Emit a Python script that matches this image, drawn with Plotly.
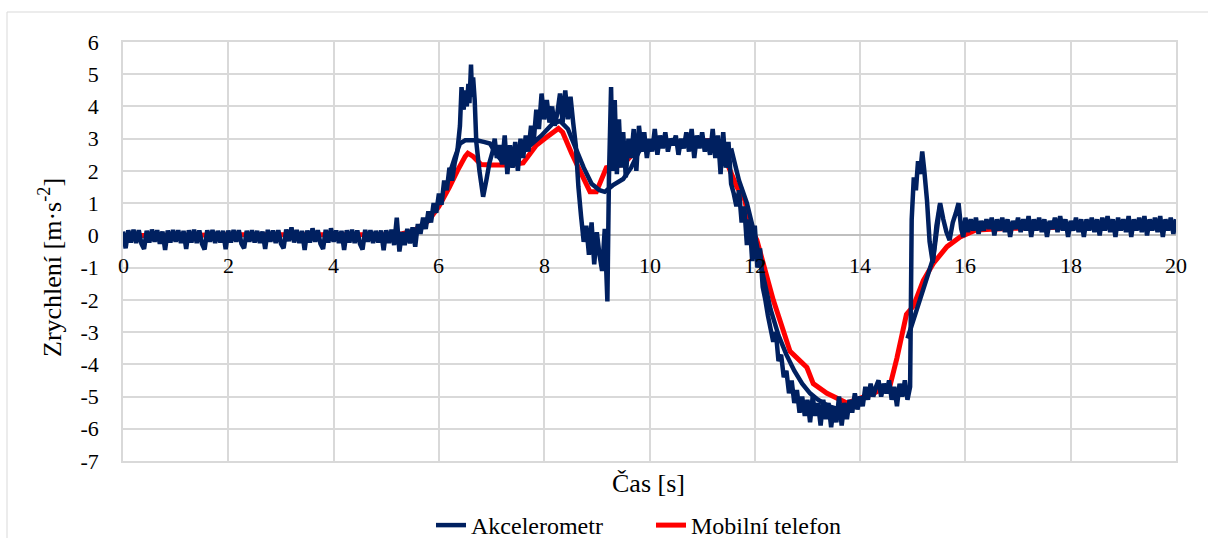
import plotly.graph_objects as go

# ---------------- data ----------------
x_tick_values = [0, 2, 4, 6, 8, 10, 12, 14, 16, 18, 20]
x_tick_labels = ["0", "2", "4", "6", "8", "10", "12", "14", "16", "18", "20"]
y_tick_values = [-7, -6, -5, -4, -3, -2, -1, 0, 1, 2, 3, 4, 5, 6]
y_tick_labels = ["-7", "-6", "-5", "-4", "-3", "-2", "-1", "0", "1", "2", "3", "4", "5", "6"]

# Akcelerometr (main noisy record)
acc_time = [
    0.00, 0.05, 0.10, 0.15, 0.20, 0.25, 0.30, 0.35, 0.40, 0.45,
    0.50, 0.55, 0.60, 0.65, 0.70, 0.75, 0.80, 0.85, 0.90, 0.95,
    1.00, 1.05, 1.10, 1.15, 1.20, 1.25, 1.30, 1.35, 1.40, 1.45,
    1.50, 1.55, 1.60, 1.65, 1.70, 1.75, 1.80, 1.85, 1.90, 1.95,
    2.00, 2.05, 2.10, 2.15, 2.20, 2.25, 2.30, 2.35, 2.40, 2.45,
    2.50, 2.55, 2.60, 2.65, 2.70, 2.75, 2.80, 2.85, 2.90, 2.95,
    3.00, 3.05, 3.10, 3.15, 3.20, 3.25, 3.30, 3.35, 3.40, 3.45,
    3.50, 3.55, 3.60, 3.65, 3.70, 3.75, 3.80, 3.85, 3.90, 3.95,
    4.00, 4.05, 4.10, 4.15, 4.20, 4.25, 4.30, 4.35, 4.40, 4.45,
    4.50, 4.55, 4.60, 4.65, 4.70, 4.75, 4.80, 4.85, 4.90, 4.95,
    5.00, 5.05, 5.10, 5.15, 5.20, 5.25, 5.30, 5.35, 5.40, 5.45,
    5.50, 5.55, 5.60, 5.65, 5.70, 5.75, 5.80, 5.85, 5.90, 5.95,
    6.00, 6.05, 6.10, 6.15, 6.20, 6.25, 6.30, 6.35,
    6.40, 6.43, 6.47, 6.50, 6.53, 6.56, 6.58, 6.61, 6.63, 6.65,
    6.68, 6.71, 6.77, 6.84, 6.90, 6.96, 7.02, 7.06, 7.10, 7.15,
    7.20, 7.25, 7.30, 7.35, 7.40, 7.45, 7.50, 7.55, 7.60, 7.65,
    7.70, 7.75, 7.80, 7.85, 7.90, 7.95, 8.00, 8.05, 8.10, 8.15,
    8.20, 8.25, 8.30, 8.35, 8.40, 8.45, 8.50, 8.55, 8.60, 8.65,
    8.70, 8.75, 8.80, 8.85, 8.90, 8.95, 9.00, 9.05, 9.10, 9.15,
    9.20, 9.23, 9.27, 9.30, 9.34, 9.38, 9.42, 9.46, 9.50, 9.55,
    9.60, 9.65, 9.70, 9.75, 9.80, 9.85, 9.90, 9.95, 10.00, 10.05,
    10.10, 10.15, 10.20, 10.25, 10.30, 10.35, 10.40, 10.45, 10.50, 10.55,
    10.60, 10.65, 10.70, 10.75, 10.80, 10.85, 10.90, 10.95, 11.00, 11.05,
    11.10, 11.15, 11.20, 11.25, 11.30, 11.35, 11.40, 11.45, 11.50, 11.55,
    11.60, 11.65, 11.70, 11.75, 11.80, 11.85, 11.90, 11.95, 12.00, 12.05,
    12.10, 12.15, 12.20, 12.25, 12.30, 12.35, 12.40, 12.45, 12.50, 12.55,
    12.60, 12.65, 12.70, 12.75, 12.80, 12.85, 12.90, 12.95, 13.00, 13.05,
    13.10, 13.15, 13.20, 13.25, 13.30, 13.35, 13.40, 13.45, 13.50, 13.55,
    13.60, 13.65, 13.70, 13.75, 13.80, 13.85, 13.90, 13.95, 14.00, 14.05,
    14.10, 14.15, 14.20, 14.25, 14.30, 14.35, 14.40, 14.45, 14.50, 14.55,
    14.60, 14.65, 14.70, 14.75, 14.80, 14.85, 14.90, 14.95, 14.98, 15.02,
    15.06, 15.10, 15.14, 15.18, 15.22, 15.27, 15.32, 15.38, 15.45, 15.52,
    15.58, 15.64, 15.70, 15.76, 15.82, 15.87, 15.92, 15.96, 16.00,
    16.05, 16.10, 16.15, 16.20, 16.25, 16.30, 16.35, 16.40, 16.45, 16.50,
    16.55, 16.60, 16.65, 16.70, 16.75, 16.80, 16.85, 16.90, 16.95, 17.00,
    17.05, 17.10, 17.15, 17.20, 17.25, 17.30, 17.35, 17.40, 17.45, 17.50,
    17.55, 17.60, 17.65, 17.70, 17.75, 17.80, 17.85, 17.90, 17.95, 18.00,
    18.05, 18.10, 18.15, 18.20, 18.25, 18.30, 18.35, 18.40, 18.45, 18.50,
    18.55, 18.60, 18.65, 18.70, 18.75, 18.80, 18.85, 18.90, 18.95, 19.00,
    19.05, 19.10, 19.15, 19.20, 19.25, 19.30, 19.35, 19.40, 19.45, 19.50,
    19.55, 19.60, 19.65, 19.70, 19.75, 19.80, 19.85, 19.90, 19.95, 20.00,
]
acc_value = [
    0.12, -0.40, 0.16, -0.22, 0.18, -0.24, 0.16, -0.26, -0.42, 0.14,
    -0.22, 0.18, -0.20, 0.16, -0.26, 0.12, -0.45, 0.15, -0.22, 0.17,
    -0.20, 0.16, -0.24, 0.14, -0.42, 0.16, -0.22, 0.18, -0.24, 0.15,
    -0.26, -0.44, 0.16, -0.20, 0.17, -0.24, 0.14, -0.22, 0.14, -0.43,
    0.15, -0.22, 0.17, -0.20, 0.16, -0.26, -0.40, 0.14, -0.20, 0.16,
    -0.22, 0.14, -0.24, 0.12, -0.42, 0.17, -0.20, 0.15, -0.24, 0.16,
    -0.26, -0.40, 0.18, -0.18, 0.25, -0.22, 0.17, -0.24, 0.14, -0.45,
    0.15, -0.22, 0.22, -0.20, 0.16, -0.26, -0.42, 0.17, -0.22, 0.22,
    -0.20, 0.15, -0.24, 0.14, -0.45, 0.16, -0.22, 0.18, -0.24, 0.15,
    -0.26, -0.44, 0.17, -0.20, 0.16, -0.24, 0.14, -0.22, 0.15, -0.46,
    0.16, -0.24, 0.18, -0.30, 0.55, -0.50, 0.10, -0.30, 0.20, -0.25,
    0.25, -0.35, 0.35, 0.05, 0.55, 0.20, 0.75, 0.40, 1.00, 0.70,
    1.30, 0.95, 1.70, 1.40, 2.10, 1.70, 2.25, 2.60,
    3.40, 4.60, 3.90, 4.50, 4.00, 4.70, 4.10, 5.30, 4.30, 4.90,
    4.20, 2.90, 2.00, 1.20, 1.70, 2.25, 2.60, 3.00, 2.40, 2.80,
    2.20, 3.10, 1.90, 2.80, 2.10, 2.90, 2.00, 3.00, 2.40, 3.10,
    2.60, 3.40, 2.90, 3.90, 3.30, 4.40, 3.60, 4.20, 3.50, 4.00,
    3.40, 3.80, 4.40, 3.50, 4.50, 3.60, 4.30, 3.50, 2.80, 1.50,
    0.60, -0.20, 0.30, -0.60, 0.40, -0.90, 0.10, -0.60, -1.10, 0.20,
    -2.05, 1.80, 4.60, 2.00, 4.20, 1.90, 3.60, 2.10, 3.20, 1.80,
    3.00, 2.40, 3.30, 2.00, 3.40, 2.60, 3.20, 2.40, 3.00, 2.60,
    3.30, 2.50, 3.10, 2.70, 3.20, 2.60, 3.00, 2.80, 3.10, 2.50,
    3.00, 2.70, 3.20, 2.60, 3.30, 2.40, 3.10, 2.70, 3.20, 2.60,
    3.00, 2.50, 3.30, 2.40, 3.10, 1.90, 3.20, 2.10, 2.90, 1.60,
    1.30, 0.90, 1.40, 0.40, 0.90, -0.30, 0.50, -0.80, 0.30, -1.00,
    -0.40, -1.60, -2.00, -2.50, -2.90, -3.30, -3.00, -3.90, -3.70, -4.40,
    -4.20, -4.90, -4.50, -5.20, -4.80, -5.50, -5.00, -5.60, -5.10, -5.80,
    -5.00, -5.60, -5.20, -5.90, -5.10, -5.70, -5.20, -5.95, -5.30, -5.80,
    -5.00, -5.90, -5.20, -5.70, -5.10, -5.50, -4.90, -5.40, -5.00, -5.30,
    -4.70, -5.10, -4.60, -5.00, -4.70, -4.50, -5.00, -4.60, -4.90, -4.50,
    -5.10, -4.70, -5.30, -4.60, -5.00, -4.50, -5.10, -4.70, 0.50, 1.80,
    1.40, 2.30, 1.90, 2.60, 2.00, 1.10, -0.20, -0.85, 0.30, 1.00,
    0.50, 0.10, -0.15, 0.40, 0.70, 1.00, 0.20, -0.05, 0.55,
    0.10, 0.50, 0.15, 0.55, 0.05, 0.45, 0.15, 0.50, 0.20, 0.55,
    0.00, 0.50, 0.15, 0.55, 0.10, 0.50, -0.05, 0.45, 0.20, 0.55,
    0.10, 0.50, 0.15, 0.60, -0.05, 0.50, 0.15, 0.55, 0.10, 0.50,
    -0.05, 0.45, 0.20, 0.55, 0.10, 0.60, 0.15, 0.50, -0.05, 0.45,
    0.15, 0.55, 0.10, 0.50, -0.05, 0.50, 0.15, 0.55, 0.10, 0.50,
    0.00, 0.55, 0.15, 0.60, 0.10, 0.50, -0.05, 0.55, 0.15, 0.50,
    0.10, 0.60, -0.05, 0.50, 0.15, 0.55, 0.10, 0.60, 0.00, 0.50,
    0.15, 0.55, 0.10, 0.60, -0.05, 0.50, 0.15, 0.55, 0.05, 0.50,
]

# Akcelerometr (second, smoother pass of the same record; gaps = None)
acc2_time = [6.20, 6.30, 6.40, 6.50, 6.60, 6.72, 6.85, 6.97, 7.08, 7.20,
             7.35, 7.50, 7.70, 7.95, 8.15, 8.30, 8.45, 8.60, 8.75, 8.90,
             9.05, 9.15, 9.30, 9.50, 9.65, 9.80, 9.95, None,
             11.55, 11.70, 11.85, 12.00, 12.15, 12.30, 12.45, 12.60, 12.75, 12.90,
             13.05, 13.20, 13.40, 13.60, 13.80, None,
             14.90, 15.39, 15.52]
acc2_value = [1.90, 2.40, 2.85, 2.95, 2.95, 2.95, 2.90, 2.85, 2.55, 2.30,
              2.40, 2.60, 2.75, 3.10, 3.45, 3.55, 3.30, 2.70, 2.10, 1.60,
              1.40, 1.35, 1.55, 1.75, 2.10, 2.60, 2.90, None,
              2.70, 1.70, 1.00, 0.00, -1.20, -2.30, -3.10, -3.70, -4.20, -4.60,
              -4.90, -5.10, -5.30, -5.40, -5.30, None,
              -3.20, -0.70, 0.95]

# Mobilní telefon
phone_time = [0.0, 1.0, 2.0, 3.0, 4.0, 5.0, 5.3, 5.5, 5.8, 6.0,
              6.2, 6.35, 6.5, 6.55, 6.65, 6.8, 7.0, 7.3, 7.6, 7.85,
              8.05, 8.27, 8.35, 8.52, 8.68, 8.87, 8.99, 9.18, 9.5, 9.75,
              10.13, 10.6, 11.2, 11.47, 11.66, 11.81, 11.91, 12.04, 12.35, 12.67,
              12.99, 13.11, 13.37, 13.75, 14.25, 14.57, 14.7, 14.88, 15.01, 15.2,
              15.39, 15.65, 15.9, 16.2, 16.9, 18.0, 20.0]
phone_value = [0.0, 0.0, 0.02, 0.02, 0.02, 0.03, 0.05, 0.12, 0.45, 0.9,
               1.5, 2.0, 2.45, 2.55, 2.45, 2.2, 2.18, 2.18, 2.25, 2.8,
               3.05, 3.32, 3.2, 2.55, 2.0, 1.35, 1.35, 2.1, 2.2, 2.65,
               2.9, 2.9, 2.95, 2.25, 1.5, 1.1, 0.27, -0.15, -2.0, -3.6,
               -4.1, -4.6, -4.9, -5.2, -4.9, -4.65, -3.8, -2.45, -2.2, -1.4,
               -0.87, -0.35, -0.05, 0.17, 0.22, 0.26, 0.3]

legend_names = ["Akcelerometr", "Mobilní telefon"]

assert len(acc_time) == len(acc_value)
assert len(acc2_time) == len(acc2_value)
assert len(phone_time) == len(phone_value)

# ---------------- figure ----------------
BLUE = "#002060"
RED = "#FF0000"
GRID = "#d9d9d9"
FONT = "Liberation Serif, Times New Roman, DejaVu Serif, serif"

fig = go.Figure()
fig.add_trace(go.Scatter(x=phone_time, y=phone_value, mode="lines", name=legend_names[1],
                         line=dict(color=RED, width=5, simplify=False), legendrank=2))
fig.add_trace(go.Scatter(x=acc2_time, y=acc2_value, mode="lines", showlegend=False,
                         line=dict(color=BLUE, width=4.5, simplify=False), connectgaps=False))
fig.add_trace(go.Scatter(x=acc_time, y=acc_value, mode="lines", name=legend_names[0],
                         line=dict(color=BLUE, width=4.5, simplify=False), legendrank=1))

W, H = 1208, 538
L, R, T, B = 123, 32, 42, 77
pw, ph = W - L - R, H - T - B

def px_x(p):
    return (p - L) / pw

def px_y(p):
    return (H - B - p) / ph

tick_font = dict(family=FONT, size=22, color="#000000")
title_font = dict(family=FONT, size=26, color="#000000")
legend_font = dict(family=FONT, size=24, color="#000000")

annotations = [
    dict(x=v, y=0, xref="x", yref="y", text=l, showarrow=False,
         xanchor="center", yanchor="top", yshift=-16, font=tick_font)
    for v, l in zip(x_tick_values, x_tick_labels)
]
annotations.append(dict(x=px_x(50), y=px_y(268), xref="paper", yref="paper",
                        text="Zrychlení [m·s<sup>-2</sup>]", textangle=-90, showarrow=False,
                        xanchor="center", yanchor="middle", font=title_font))
annotations.append(dict(x=px_x(648), y=px_y(483), xref="paper", yref="paper",
                        text="Čas [s]", showarrow=False,
                        xanchor="center", yanchor="middle", font=title_font))

fig.update_layout(
    width=W, height=H, autosize=False,
    margin=dict(l=L, r=R, t=T, b=B, pad=0, autoexpand=False),
    paper_bgcolor="white", plot_bgcolor="white",
    font=tick_font,
    xaxis=dict(range=[0, 20], tickmode="array", tickvals=x_tick_values, showticklabels=False,
               showgrid=True, gridcolor=GRID, gridwidth=1.5, zeroline=False,
               showline=True, linecolor=GRID, linewidth=1.5, mirror=True, ticks="",
               automargin=False),
    yaxis=dict(range=[-7, 6], tickmode="array", tickvals=y_tick_values, ticktext=y_tick_labels,
               showgrid=True, gridcolor=GRID, gridwidth=1.5,
               zeroline=True, zerolinecolor="#bfbfbf", zerolinewidth=1.5,
               showline=True, linecolor=GRID, linewidth=1.5, mirror=True, ticks="",
               ticklabelstandoff=18, tickfont=tick_font, automargin=False),
    legend=dict(orientation="h", x=px_x(431), xanchor="left", y=px_y(503), yanchor="top",
                entrywidth=175, entrywidthmode="pixels",
                font=legend_font, bgcolor="rgba(0,0,0,0)", traceorder="normal"),
    annotations=annotations,
    shapes=[dict(type="rect", xref="paper", yref="paper", layer="below",
                 x0=px_x(7), x1=px_x(1225), y0=px_y(560), y1=px_y(12),
                 line=dict(color=GRID, width=1), fillcolor="rgba(0,0,0,0)")],
    showlegend=True,
)

fig.write_html("out.html")
